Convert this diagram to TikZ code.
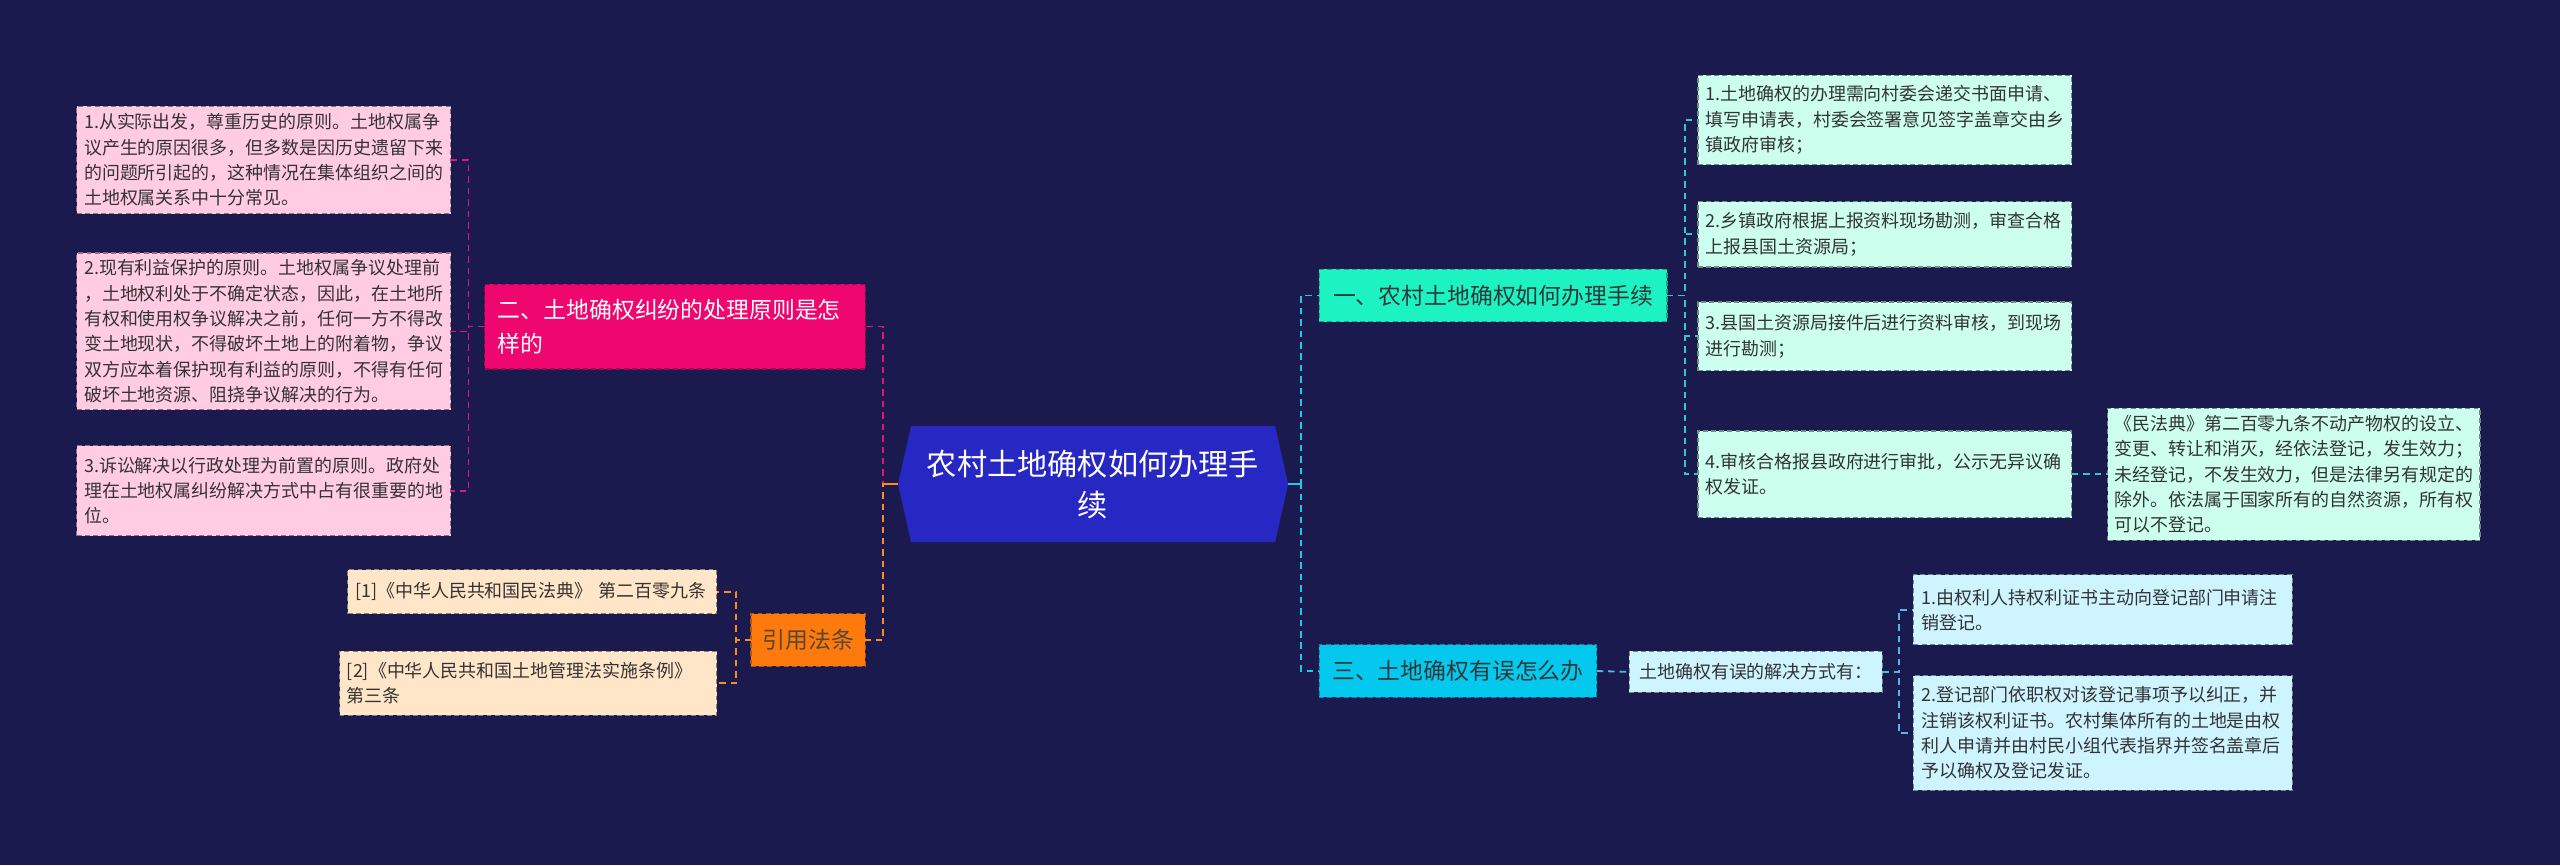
\documentclass[tikz,border=0pt]{standalone}
\usepackage{fontspec}
\setmainfont{Noto Sans CJK SC}
\usetikzlibrary{calc}
\definecolor{bg}{HTML}{1B1A4E}
\definecolor{centerblue}{HTML}{2727C3}
\definecolor{mint}{HTML}{1CF2C2}
\definecolor{cyanB}{HTML}{04C8EE}
\definecolor{magB}{HTML}{F0066F}
\definecolor{orangeB}{HTML}{FF7A0C}
\definecolor{pinkL}{HTML}{FFCCE4}
\definecolor{orangeL}{HTML}{FFE6C9}
\definecolor{mintL}{HTML}{CCFFEE}
\definecolor{cyanL}{HTML}{CDF4FF}
\definecolor{leafText}{HTML}{333333}
\definecolor{darkText}{HTML}{2A3A3A}
\definecolor{conMag}{HTML}{E8127A}
\definecolor{conOr}{HTML}{FF8C1A}
\definecolor{conCy}{HTML}{22C8E6}
\definecolor{conTeal}{HTML}{30C6D2}
\definecolor{conBl}{HTML}{4FB8E6}
\begin{document}
\begin{tikzpicture}[x=1pt,y=-1pt,
  every node/.style={inner sep=0pt, outer sep=0pt},
  box/.style={rectangle, draw, dash pattern=on 3pt off 2pt, line width=0.7pt, align=left},
  leaf/.style={box, text=leafText, font=\fontsize{11}{15.5}\selectfont, inner xsep=4.5pt},
  leafP/.style={leaf, fill=pinkL, draw=pinkL!55!black},
  leafO/.style={leaf, fill=orangeL, draw=orangeL!55!black},
  leafM/.style={leaf, fill=mintL, draw=mintL!55!black},
  leafC/.style={leaf, fill=cyanL, draw=cyanL!55!black},
  branch/.style={box, font=\fontsize{14}{21}\selectfont, align=center},
  con/.style={line width=1.1pt, dash pattern=on 4pt off 3pt},
  stub/.style={line width=1.3pt}
]
\fill[bg] (0,0) rectangle (1568,530);
\useasboundingbox (0,0) rectangle (1568,530);

% centre
\fill[centerblue] (558,261) -- (781,261) -- (789,296.5) -- (781,332) -- (558,332) -- (550,296.5) -- cycle;
\node[text=white, font=\fontsize{18.5}{25}\selectfont, align=center] (c) at (669.5,297) {农村土地确权如何办理手\\续};
\coordinate (cl) at (550,296.5);
\coordinate (cr) at (789,296.5);

% left branches
\node[branch, fill=magB, draw=magB!70!black, text=white, align=left, text width=217pt, inner xsep=8pt, minimum height=52pt] (b2) at (413.5,200) {二、土地确权纠纷的处理原则是怎\\样的};
\node[branch, fill=orangeB, draw=orangeB!70!black, text=darkText!80!orangeB, minimum width=70pt, minimum height=32pt] (b4) at (495,392) {引用法条};

\node[leafP, text width=220pt, minimum height=66pt] (p1) at (161.5,98) {1.从实际出发，尊重历史的原则。土地权属争\\议产生的原因很多，但多数是因历史遗留下来\\的问题所引起的，这种情况在集体组织之间的\\土地权属关系中十分常见。};
\node[leafP, text width=220pt, minimum height=96pt] (p2) at (161.5,203) {2.现有利益保护的原则。土地权属争议处理前\\，土地权利处于不确定状态，因此，在土地所\\有权和使用权争议解决之前，任何一方不得改\\变土地现状，不得破坏土地上的附着物，争议\\双方应本着保护现有利益的原则，不得有任何\\破坏土地资源、阻挠争议解决的行为。};
\node[leafP, text width=220pt, minimum height=55pt] (p3) at (161.5,300.5) {3.诉讼解决以行政处理为前置的原则。政府处\\理在土地权属纠纷解决方式中占有很重要的地\\位。};

\node[leafO, text width=217pt, minimum height=27pt] (o1) at (326,362.5) {[1]《中华人民共和国民法典》 第二百零九条};
\node[leafO, text width=222pt, minimum height=39pt] (o2) at (323.5,418.5) {[2]《中华人民共和国土地管理法实施条例》\\第三条};

% right branches
\node[branch, fill=mint, draw=mint!70!black, text=darkText, minimum width=213pt, minimum height=32pt] (b1) at (914.5,181) {一、农村土地确权如何办理手续};
\node[branch, fill=cyanB, draw=cyanB!70!black, text=darkText, minimum width=170pt, minimum height=32pt] (b3) at (893,411) {三、土地确权有误怎么办};

\node[leafM, text width=220pt, minimum height=55pt] (l1) at (1154.5,73.5) {1.土地确权的办理需向村委会递交书面申请、\\填写申请表，村委会签署意见签字盖章交由乡\\镇政府审核；};
\node[leafM, text width=220pt, minimum height=40pt] (l2) at (1154.5,143.5) {2.乡镇政府根据上报资料现场勘测，审查合格\\上报县国土资源局；};
\node[leafM, text width=220pt, minimum height=42pt] (l3) at (1154.5,206) {3.县国土资源局接件后进行资料审核，到现场\\进行勘测；};
\node[leafM, text width=220pt, minimum height=53pt] (l4) at (1154.5,290.5) {4.审核合格报县政府进行审批，公示无异议确\\权发证。};
\node[leafM, text width=220pt, inner xsep=4pt, minimum height=81pt] (l5) at (1405,290.5) {《民法典》第二百零九条不动产物权的设立、\\变更、转让和消灭，经依法登记，发生效力；\\未经登记，不发生效力，但是法律另有规定的\\除外。依法属于国家所有的自然资源，所有权\\可以不登记。};

\node[leafC, align=center, minimum width=155pt, minimum height=25pt] (m0) at (1075.5,411.5) {土地确权有误的解决方式有：};
\node[leafC, text width=222pt, inner xsep=5pt, minimum height=43pt] (m1) at (1288,373.5) {1.由权利人持权利证书主动向登记部门申请注\\销登记。};
\node[leafC, text width=222pt, inner xsep=5pt, minimum height=70pt] (m2) at (1288,449) {2.登记部门依职权对该登记事项予以纠正，并\\注销该权利证书。农村集体所有的土地是由权\\利人申请并由村民小组代表指界并签名盖章后\\予以确权及登记发证。};

% connectors left
\draw[con, conMag] (cl) -- ++(-9,0) |- (b2.east);
\draw[con, conOr] (cl) -- ++(-9,0) |- (b4.east);
\draw[stub, conOr] (cl) -- ++(-9,0);
\draw[con, conMag] (b2.west) -- ++(-10,0) |- (p1.east);
\draw[con, conMag] (b2.west) -- ++(-10,0) |- (p2.east);
\draw[con, conMag] (b2.west) -- ++(-10,0) |- (p3.east);
\draw[con, conOr] (b4.west) -- ++(-9,0) |- (o1.east);
\draw[con, conOr] (b4.west) -- ++(-9,0) |- (o2.east);

% connectors right
\draw[con, conCy] (cr) -- ++(8,0) |- (b1.west);
\draw[con, conCy] (cr) -- ++(8,0) |- (b3.west);
\draw[stub, conCy] (cr) -- ++(8,0);
\draw[con, conTeal] (b1.east) -- ++(11,0) |- (l1.west);
\draw[con, conTeal] (b1.east) -- ++(11,0) |- (l2.west);
\draw[con, conTeal] (b1.east) -- ++(11,0) |- (l3.west);
\draw[con, conTeal] (b1.east) -- ++(11,0) |- (l4.west);
\draw[con, conTeal] (l4.east) -- (l5.west);
\draw[con, conBl] (b3.east) -- (m0.west);
\draw[con, conBl] (m0.east) -- ++(10,0) |- (m1.west);
\draw[con, conBl] (m0.east) -- ++(10,0) |- (m2.west);
\end{tikzpicture}
\end{document}
